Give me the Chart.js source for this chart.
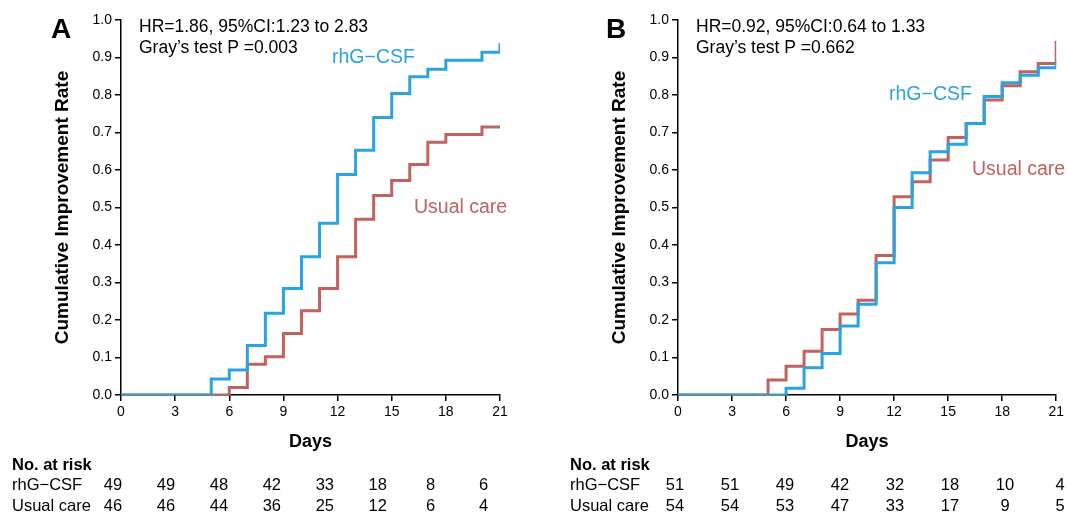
<!DOCTYPE html>
<html>
<head>
<meta charset="utf-8">
<script src="https://cdn.jsdelivr.net/npm/chart.js@4"></script>
<style>
  html, body { margin: 0; padding: 0; background: #fff; }
  #wrap { position: relative; width: 1067px; height: 515px; }
  canvas { position: absolute; top: 0; }
</style>
</head>
<body>
<div id="wrap">
  <canvas id="chartA" width="557" height="515" style="left:0"></canvas>
  <canvas id="chartB" width="510" height="515" style="left:557px"></canvas>
</div>
<script>
// Datos del gráfico
const days = [0, 1, 2, 3, 4, 5, 6, 7, 8, 9, 10, 11, 12, 13, 14, 15, 16, 17, 18, 19, 20, 21];
const riskDays = [0, 3, 6, 9, 12, 15, 18, 21];

// Panel A
const aRhg = [0, 0, 0, 0, 0, 0.043, 0.067, 0.132, 0.218, 0.284, 0.369, 0.458, 0.588, 0.653, 0.740, 0.804, 0.849, 0.869, 0.893, 0.893, 0.914, 0.938];
const aUsual = [0, 0, 0, 0, 0, 0, 0.020, 0.082, 0.102, 0.164, 0.225, 0.284, 0.369, 0.469, 0.532, 0.572, 0.615, 0.674, 0.695, 0.695, 0.715, 0.715];
const aRiskRhg = [49, 49, 48, 42, 33, 18, 8, 6];
const aRiskUsual = [46, 46, 44, 36, 25, 12, 6, 4];
const aStats = ['HR=1.86, 95%CI:1.23 to 2.83', 'Gray\u2019s test P =0.003'];

// Panel B
const bRhg = [0, 0, 0, 0, 0, 0, 0.018, 0.073, 0.111, 0.184, 0.242, 0.353, 0.500, 0.593, 0.649, 0.669, 0.724, 0.796, 0.833, 0.853, 0.873, 0.891];
const bUsual = [0, 0, 0, 0, 0, 0.040, 0.077, 0.117, 0.175, 0.216, 0.253, 0.372, 0.529, 0.569, 0.627, 0.687, 0.724, 0.787, 0.825, 0.862, 0.884, 0.945];
const bRiskRhg = [51, 51, 49, 42, 32, 18, 10, 4];
const bRiskUsual = [54, 54, 53, 47, 33, 17, 9, 5];
const bStats = ['HR=0.92, 95%CI:0.64 to 1.33', 'Gray\u2019s test P =0.662'];

const groupNames = ['rhG\u2212CSF', 'Usual care'];

const BLUE = '#2AA3E1';
const RED = '#C1625E';
const FONT = '"Liberation Sans", Arial, sans-serif';

// Plugin para el texto: letra del panel, estadísticas, etiquetas y tabla de riesgo
const annotPlugin = {
    id: 'annot',
    afterDraw(chart, args, opts) {
        const ctx = chart.ctx;
        const xs = chart.scales.x;
        ctx.save();
        ctx.fillStyle = '#000';
        ctx.textBaseline = 'middle';

        ctx.font = 'bold 28px ' + FONT;
        ctx.textAlign = 'left';
        ctx.fillText(opts.letter, opts.letterX, 30);

        ctx.font = '17.5px ' + FONT;
        ctx.fillText(opts.stats[0], chart.chartArea.left + 18, 27);
        ctx.fillText(opts.stats[1], chart.chartArea.left + 18, 48);

        ctx.font = '19.5px ' + FONT;
        ctx.fillStyle = BLUE;
        ctx.fillText(groupNames[0], opts.rhgPos[0], opts.rhgPos[1]);
        ctx.fillStyle = RED;
        ctx.fillText(groupNames[1], opts.usualPos[0], opts.usualPos[1]);

        // Tabla de riesgo
        ctx.fillStyle = '#000';
        ctx.font = 'bold 16.5px ' + FONT;
        ctx.fillText('No. at risk', opts.tableX, 465);
        ctx.font = '16.5px ' + FONT;
        ctx.fillText(groupNames[0], opts.tableX, 485);
        ctx.fillText(groupNames[1], opts.tableX, 506);
        ctx.textAlign = 'center';
        const x0 = xs.getPixelForValue(0);
        riskDays.forEach((d, i) => {
            const x = x0 + opts.riskShift + (xs.getPixelForValue(d) - x0) * opts.riskScale;
            ctx.fillText(String(opts.riskRhg[i]), x, 485);
            ctx.fillText(String(opts.riskUsual[i]), x, 506);
        });
        ctx.restore();
    },
};

function makePanel(id, rhg, usual, padRight, annot) {
    const ctx = document.getElementById(id).getContext('2d');
    return new Chart(ctx, {
        type: 'line',
        data: {
            datasets: [
                {
                    data: days.map((d, i) => ({ x: d, y: rhg[i] })),
                    borderColor: BLUE,
                    borderWidth: 3,
                    stepped: true,
                    pointRadius: 0,
                    fill: false,
                },
                {
                    data: days.map((d, i) => ({ x: d, y: usual[i] })),
                    borderColor: RED,
                    borderWidth: 3,
                    stepped: true,
                    pointRadius: 0,
                    fill: false,
                },
            ],
        },
        options: {
            responsive: false,
            animation: false,
            layout: { padding: { top: 20, right: padRight, left: 0, bottom: 0 } },
            plugins: {
                legend: { display: false },
                tooltip: { enabled: false },
                annot: annot,
            },
            scales: {
                x: {
                    type: 'linear',
                    min: 0,
                    max: 21,
                    afterFit(scale) { scale.height = 120; },
                    ticks: {
                        stepSize: 3,
                        color: '#000',
                        padding: 3,
                        font: { family: FONT, size: 14 },
                    },
                    grid: { drawOnChartArea: false, drawTicks: true, tickLength: 6, color: '#000', lineWidth: 1.5 },
                    border: { color: '#000', width: 1.5 },
                    title: {
                        display: true,
                        text: 'Days',
                        color: '#000',
                        font: { family: FONT, size: 18, weight: 'bold' },
                        padding: { top: 0, bottom: 62 },
                    },
                },
                y: {
                    min: 0,
                    max: 1,
                    afterFit(scale) { scale.width = 121; },
                    ticks: {
                        stepSize: 0.1,
                        color: '#000',
                        padding: 3,
                        font: { family: FONT, size: 14 },
                        callback: (v) => v.toFixed(1),
                    },
                    grid: { drawOnChartArea: false, drawTicks: true, tickLength: 6, color: '#000', lineWidth: 1.5 },
                    border: { color: '#000', width: 1.5 },
                    title: {
                        display: true,
                        text: 'Cumulative Improvement Rate',
                        color: '#000',
                        font: { family: FONT, size: 19, weight: 'bold' },
                        padding: { top: 51, bottom: 0 },
                    },
                },
            },
        },
        plugins: [annotPlugin],
    });
}

makePanel('chartA', aRhg, aUsual, 57, {
    letter: 'A', letterX: 51, stats: aStats,
    rhgPos: [332, 58], usualPos: [414, 208],
    tableX: 12, riskRhg: aRiskRhg, riskUsual: aRiskUsual,
    riskShift: -8, riskScale: 0.978,
});

makePanel('chartB', bRhg, bUsual, 9, {
    letter: 'B', letterX: 49, stats: bStats,
    rhgPos: [332, 95], usualPos: [415, 170],
    tableX: 13, riskRhg: bRiskRhg, riskUsual: bRiskUsual,
    riskShift: -3, riskScale: 1.018,
});
</script>
</body>
</html>
